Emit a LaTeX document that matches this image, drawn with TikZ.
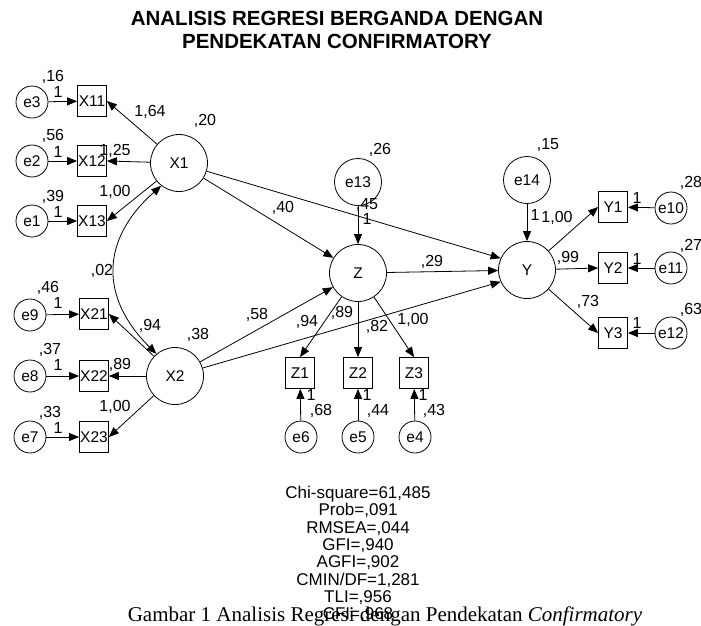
\documentclass[tikz,border=0pt]{standalone}
\usepackage{fontspec}
\setmainfont{Liberation Serif}
\newfontfamily\sansf{Liberation Sans}
\usetikzlibrary{arrows.meta}
\begin{document}
\begin{tikzpicture}[x=1pt,y=-1pt,
  every node/.style={font=\sansf\fontsize{15.5}{16}\selectfont},
  lat/.style={circle,draw,line width=0.8pt,minimum size=57pt,inner sep=0pt},
  err/.style={circle,draw,line width=0.8pt,minimum size=32pt,inner sep=0pt},
  errb/.style={circle,draw,line width=0.8pt,minimum size=47pt,inner sep=0pt},
  obs/.style={rectangle,draw,line width=0.8pt,minimum width=29pt,minimum height=31pt,inner sep=0pt},
  arr/.style={-{Triangle[length=10pt,width=8pt]},line width=0.8pt},
  dbl/.style={{Triangle[length=10pt,width=8pt]}-{Triangle[length=10pt,width=8pt]},line width=0.8pt},
  lbl/.style={inner sep=0pt,font=\sansf\fontsize{16}{16}\selectfont}]
\fill[white] (0,0) rectangle (701,625);
\useasboundingbox (0,0) rectangle (701,625);

% title
\node[inner sep=0pt,font=\sansf\bfseries\fontsize{20.5}{23}\selectfont,align=center] (title) at (337,30)
  {ANALISIS REGRESI BERGANDA DENGAN\\PENDEKATAN CONFIRMATORY};

% latent
\node[lat] (X1) at (179,163) {X1};
\node[lat] (X2) at (175,376) {X2};
\node[lat] (Z) at (358,273) {Z};
\node[lat] (Y) at (527,270) {Y};

% indicators X1
\node[obs] (X11) at (92,101) {X11};
\node[obs] (X12) at (92,161) {X12};
\node[obs] (X13) at (92,221) {X13};
\node[err] (e3) at (32,102) {e3};
\node[err] (e2) at (32,161) {e2};
\node[err] (e1) at (32,221) {e1};
% indicators X2
\node[obs] (X21) at (94,314) {X21};
\node[obs] (X22) at (94,376) {X22};
\node[obs] (X23) at (94,437) {X23};
\node[err] (e9) at (30,315) {e9};
\node[err] (e8) at (30,376) {e8};
\node[err] (e7) at (30,437) {e7};
% Z indicators
\node[obs] (Z1) at (300,373) {Z1};
\node[obs] (Z2) at (358,373) {Z2};
\node[obs] (Z3) at (414,373) {Z3};
\node[err] (e6) at (301,437) {e6};
\node[err] (e5) at (358,437) {e5};
\node[err] (e4) at (415,437) {e4};
% Y indicators
\node[obs] (Y1) at (613,207) {Y1};
\node[obs] (Y2) at (613,268) {Y2};
\node[obs] (Y3) at (613,333) {Y3};
\node[err] (e10) at (671,208) {e10};
\node[err] (e11) at (671,268) {e11};
\node[err] (e12) at (671,333) {e12};
% disturbances
\node[errb] (e13) at (358,182) {e13};
\node[errb] (e14) at (527,180) {e14};

% connectors
\draw[arr] (e3) -- (X11);
\draw[arr] (e2) -- (X12);
\draw[arr] (e1) -- (X13);
\draw[arr] (e9) -- (X21);
\draw[arr] (e8) -- (X22);
\draw[arr] (e7) -- (X23);
\draw[arr] (X1) -- (X11.east);
\draw[arr] (X1) -- (X12.east);
\draw[arr] (X1) -- (X13.east);
\draw[arr] (X2) -- (X21.east);
\draw[arr] (X2) -- (X22.east);
\draw[arr] (X2) -- (X23.east);
\draw[dbl] (X1.232) .. controls (100,240) and (100,298) .. (X2.130);
\draw[arr] (X1) -- (Z);
\draw[arr] (X2) -- (Z);
\draw[arr] (X1) -- (Y.156);
\draw[arr] (X2) -- (Y.204);
\draw[arr] (Z) -- (Y);
\draw[arr] (e13) -- (Z);
\draw[arr] (e14) -- (Y);
\draw[arr] (Z) -- (Z1.north);
\draw[arr] (Z) -- (Z2.north);
\draw[arr] (Z) -- (Z3.north);
\draw[arr] (e6) -- (Z1);
\draw[arr] (e5) -- (Z2);
\draw[arr] (e4) -- (Z3);
\draw[arr] (Y) -- (Y1.west);
\draw[arr] (Y) -- (Y2.west);
\draw[arr] (Y) -- (Y3.west);
\draw[arr] (e10) -- (Y1);
\draw[arr] (e11) -- (Y2);
\draw[arr] (e12) -- (Y3);

% labels left top
\node[lbl] (l1) at (53,77) {,16};
\node[lbl] (l2) at (58,92) {1};
\node[lbl] (l3) at (53,136) {,56};
\node[lbl] (l4) at (58,152) {1};
\node[lbl] (l5) at (53,197) {,39};
\node[lbl] (l6) at (58,212) {1};
\node[lbl] (l7) at (150,112) {1,64};
\node[lbl] (l8) at (115,151) {1,25};
\node[lbl] (l9) at (115,192) {1,00};
\node[lbl] (l10) at (205,121) {,20};
% labels left bottom
\node[lbl] (l11) at (48,288) {,46};
\node[lbl] (l12) at (58,303) {1};
\node[lbl] (l13) at (50,350) {,37};
\node[lbl] (l14) at (58,365) {1};
\node[lbl] (l15) at (50,413) {,33};
\node[lbl] (l16) at (58,428) {1};
\node[lbl] (l17) at (102,271) {,02};
\node[lbl] (l18) at (150,326) {,94};
\node[lbl] (l19) at (120,365) {,89};
\node[lbl] (l20) at (115,407) {1,00};
\node[lbl] (l21) at (198,335) {,38};
% middle
\node[lbl] (l22) at (380,150) {,26};
\node[lbl] (l23) at (367,205) {,45};
\node[lbl] (l24) at (367,219) {1};
\node[lbl] (l25) at (283,208) {,40};
\node[lbl] (l26) at (432,262) {,29};
\node[lbl] (l27) at (257,315) {,58};
\node[lbl] (l28) at (307,322) {,94};
\node[lbl] (l29) at (342,313) {,89};
\node[lbl] (l30) at (377,327) {,82};
\node[lbl] (l31) at (413,320) {1,00};
\node[lbl] (l32) at (311,395) {1};
\node[lbl] (l33) at (321,411) {,68};
\node[lbl] (l34) at (367,395) {1};
\node[lbl] (l35) at (378,411) {,44};
\node[lbl] (l36) at (423,395) {1};
\node[lbl] (l37) at (434,411) {,43};
% right
\node[lbl] (l38) at (548,145) {,15};
\node[lbl] (l39) at (535,215) {1};
\node[lbl] (l40) at (557,218) {1,00};
\node[lbl] (l41) at (691,183) {,28};
\node[lbl] (l42) at (691,246) {,27};
\node[lbl] (l43) at (691,310) {,63};
\node[lbl] (l44) at (637,198) {1};
\node[lbl] (l45) at (637,259) {1};
\node[lbl] (l46) at (637,323) {1};
\node[lbl] (l47) at (568,258) {,99};
\node[lbl] (l48) at (588,302) {,73};

% caption
\node[inner sep=0pt,font=\rmfamily\fontsize{21}{22}\selectfont,anchor=base] (cap) at (385,621)
  {Gambar 1 Analisis Regresi dengan Pendekatan \textit{Confirmatory}};
% fit statistics
\node[inner sep=0pt,align=center,font=\sansf\fontsize{17}{17.3}\selectfont,anchor=north] (fit) at (358,486)
  {Chi-square=61,485\\Prob=,091\\RMSEA=,044\\GFI=,940\\AGFI=,902\\CMIN/DF=1,281\\TLI=,956\\CFI=,968};
\end{tikzpicture}
\end{document}
